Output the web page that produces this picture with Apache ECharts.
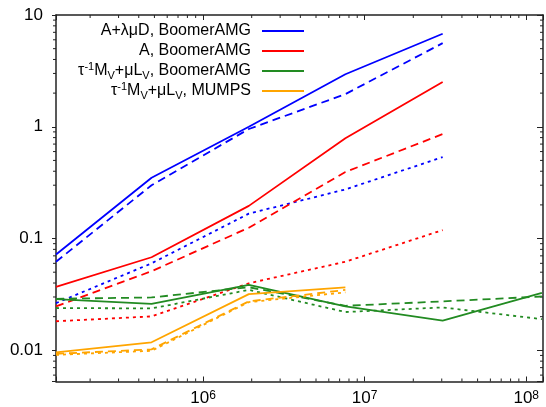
<!DOCTYPE html>
<html><head><meta charset="utf-8">
<script src="https://cdn.jsdelivr.net/npm/echarts@6/dist/echarts.min.js"></script>
<style>html,body{margin:0;padding:0;background:#fff}#c{width:546px;height:407px}</style>
</head><body><div id="c"></div>
<script>
// ---- data ----
const dofs = [1.23e5, 4.8e5, 1.92e6, 7.6e6, 3.04e7, 1.25e8];
const xMin = 1.23e5, xMax = 1.27e8;
const yMin = 0.00526, yMax = 10;
const xMajorTicks = [1e6, 1e7, 1e8];
const xTickLabels = ['10|6', '10|7', '10|8'];
const yMajorTicks = [0.01, 0.1, 1, 10];
const yTickLabels = ['0.01', '0.1', '1', '10'];
const xMinorTicks = [2e5,3e5,4e5,5e5,6e5,7e5,8e5,9e5,2e6,3e6,4e6,5e6,6e6,7e6,8e6,9e6,2e7,3e7,4e7,5e7,6e7,7e7,8e7,9e7];
const yMinorTicks = [0.006,0.007,0.008,0.009,0.02,0.03,0.04,0.05,0.06,0.07,0.08,0.09,0.2,0.3,0.4,0.5,0.6,0.7,0.8,0.9,2,3,4,5,6,7,8,9];

const blueSolid   = [0.072, 0.35, 1.0, 2.95, 6.8];
const blueDashed  = [0.062, 0.30, 0.955, 1.96, 5.6];
const blueDotted  = [0.0264, 0.06, 0.167, 0.275, 0.535];
const redSolid    = [0.0369, 0.068, 0.196, 0.79, 2.52];
const redDashed   = [0.0247, 0.051, 0.125, 0.394, 0.86];
const redDotted   = [0.0182, 0.0201, 0.0398, 0.062, 0.119];
const greenSolid  = [0.0287, 0.026, 0.0385, 0.0247, 0.0184, 0.0327];
const greenDashed = [0.0289, 0.0297, 0.0367, 0.025, 0.0274, 0.0303];
const greenDotted = [0.0239, 0.0237, 0.0347, 0.022, 0.0242, 0.019];
const orangeSolid  = [0.0096, 0.0118, 0.0318, 0.0365];
const orangeDashed = [0.0093, 0.0102, 0.0274, 0.0347];
const orangeDotted = [0.0091, 0.0099, 0.027, 0.033];

const legendNames = ['A+λμD, BoomerAMG', 'A, BoomerAMG', 'tauBoomer', 'tauMumps'];
const legendRich = {
  'A+λμD, BoomerAMG': '{t|A+λμD, BoomerAMG}',
  'A, BoomerAMG': '{t|A, BoomerAMG}',
  'tauBoomer': '{t|τ}{sup|-1}{t|M}{sub|V}{t|+μL}{sub|V}{t|, BoomerAMG}',
  'tauMumps': '{t|τ}{sup|-1}{t|M}{sub|V}{t|+μL}{sub|V}{t|, MUMPS}'
};

const FONT = 'Liberation Sans';
const BLUE = '#0000ff', RED = '#ff0000', GREEN = '#228b22', ORANGE = '#ffa500';
const DASH = [8, 5], DOT = [3, 4];

function mk(name, color, type, vals) {
  return {
    type: 'line', name: name, symbol: 'none', showSymbol: false,
    data: vals.map((v, i) => [dofs[i], v]),
    lineStyle: {color: color, width: 1.8, type: type},
    itemStyle: {color: color},
    animation: false
  };
}

function near(a, b) { return Math.abs(Math.log10(a) - Math.log10(b)) < 1e-6; }

const minorData = [];
xMinorTicks.forEach(v => { minorData.push([v, yMin, 0]); minorData.push([v, yMax, 1]); });
yMinorTicks.forEach(v => { minorData.push([xMin, v, 2]); minorData.push([xMax, v, 3]); });

const axisLineStyle = {color: '#222', width: 1.5};

const option = {
  animation: false,
  backgroundColor: '#fff',
  grid: {left: 56, right: 0, top: 15, bottom: 23},
  legend: {
    data: legendNames,
    orient: 'vertical',
    align: 'right',
    right: 242, top: 21,
    padding: 0,
    itemGap: 0,
    icon: 'rect',
    itemWidth: 42, itemHeight: 2,
    formatter: n => legendRich[n],
    textStyle: {
      fontFamily: FONT, fontSize: 16, color: '#000', lineHeight: 20,
      padding: [0, 6, 0, 0],
      rich: {
        t: {fontFamily: FONT, fontSize: 16, color: '#000', lineHeight: 20},
        sup: {fontFamily: FONT, fontSize: 11, color: '#000', lineHeight: 8, verticalAlign: 'top'},
        sub: {fontFamily: FONT, fontSize: 11, color: '#000', lineHeight: 8, verticalAlign: 'bottom'}
      }
    }
  },
  xAxis: [{
    type: 'log', min: xMin, max: xMax, position: 'bottom',
    axisLine: {show: true, lineStyle: axisLineStyle},
    axisTick: {show: true, inside: true, length: 5, lineStyle: {color: '#222'}},
    splitLine: {show: false},
    axisLabel: {
      margin: 8,
      formatter: v => {
        const i = xMajorTicks.findIndex(t => near(t, v));
        if (i < 0) return '';
        const p = xTickLabels[i].split('|');
        return '{b|' + p[0] + '}{s|' + p[1] + '}';
      },
      rich: {
        b: {fontFamily: FONT, fontSize: 17, color: '#000', lineHeight: 18},
        s: {fontFamily: FONT, fontSize: 12, color: '#000', lineHeight: 6, verticalAlign: 'top'}
      }
    }
  }, {
    type: 'log', min: xMin, max: xMax, position: 'top',
    axisLine: {show: true, lineStyle: axisLineStyle},
    axisTick: {show: true, inside: true, length: 5, lineStyle: {color: '#222'}},
    splitLine: {show: false},
    axisLabel: {show: false}
  }],
  yAxis: [{
    type: 'log', min: yMin, max: yMax, position: 'left',
    axisLine: {show: true, lineStyle: axisLineStyle},
    axisTick: {show: true, inside: false, length: 4, lineStyle: {color: '#222'}},
    splitLine: {show: false},
    axisLabel: {
      margin: 13, fontFamily: FONT, fontSize: 17, color: '#000',
      formatter: v => {
        const i = yMajorTicks.findIndex(t => near(t, v));
        return i < 0 ? '' : yTickLabels[i];
      }
    }
  }, {
    type: 'log', min: yMin, max: yMax, position: 'right',
    axisLine: {show: true, lineStyle: axisLineStyle},
    axisTick: {show: true, inside: true, length: 6, lineStyle: {color: '#222'}},
    splitLine: {show: false},
    axisLabel: {show: false}
  }],
  series: [
    mk('A+λμD, BoomerAMG', BLUE, 'solid', blueSolid),
    mk('blue dashed', BLUE, DASH, blueDashed),
    mk('blue dotted', BLUE, DOT, blueDotted),
    mk('A, BoomerAMG', RED, 'solid', redSolid),
    mk('red dashed', RED, DASH, redDashed),
    mk('red dotted', RED, DOT, redDotted),
    mk('tauBoomer', GREEN, 'solid', greenSolid),
    mk('green dashed', GREEN, DASH, greenDashed),
    mk('green dotted', GREEN, DOT, greenDotted),
    mk('tauMumps', ORANGE, 'solid', orangeSolid),
    mk('orange dashed', ORANGE, DASH, orangeDashed),
    mk('orange dotted', ORANGE, DOT, orangeDotted),
    {
      type: 'custom', name: 'minor ticks', clip: false, silent: true,
      xAxisIndex: 0, yAxisIndex: 0,
      data: minorData,
      encode: {x: 0, y: 1},
      renderItem: (params, api) => {
        const p = api.coord([api.value(0), api.value(1)]);
        const k = api.value(2);
        let x2 = p[0], y2 = p[1];
        if (k === 0) y2 -= 3; else if (k === 1) y2 += 3; else x2 -= 3;
        return {type: 'line', shape: {x1: p[0], y1: p[1], x2: x2, y2: y2},
                style: {stroke: '#222', lineWidth: 1}};
      }
    }
  ]
};

const chart = echarts.init(document.getElementById('c'), null, {renderer: 'canvas'});
chart.setOption(option);
</script>
</body></html>
